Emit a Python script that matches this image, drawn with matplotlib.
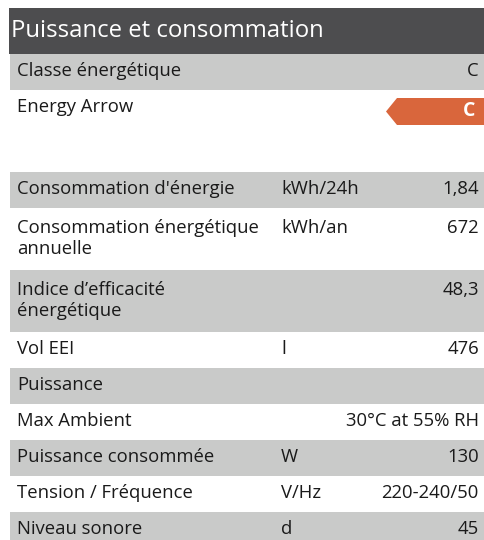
import matplotlib.pyplot as plt
from matplotlib.patches import Rectangle, Polygon

plt.rcParams['font.family'] = ['Open Sans', 'DejaVu Sans']

# contenu du tableau
title = "Puissance et consommation"
labels_top = ["Classe énergétique", "Energy Arrow"]
values_top = ["C", ""]
energy_class = "C"

labels = ["Consommation d'énergie", "Consommation énergétique\nannuelle",
          "Indice d’efficacité\nénergétique", "Vol EEI", "Puissance", "Max Ambient",
          "Puissance consommée", "Tension / Fréquence", "Niveau sonore"]
units = ["kWh/24h", "kWh/an", "", "l", "", "", "W", "V/Hz", "d"]
values = ["1,84", "672", "48,3", "476", "", "30°C at 55% RH", "130", "220-240/50", "45"]

GRAY = '#c9cac9'
DARK = '#4d4d4f'
ORANGE = '#d9663c'
TXT = '#1a1a1a'

fig = plt.figure(figsize=(4.84, 5.40), dpi=100)
ax = fig.add_axes([0, 0, 1, 1])
ax.set_xlim(0, 484)
ax.set_ylim(540, 0)
ax.axis('off')

FS = 13.3
X0, XL, XU, XR = 10, 17, 281, 479
STEP = 21.5


def draw_rows(y, labs, uns, vals):
    for i, (lab, un, val) in enumerate(zip(labs, uns, vals)):
        lines = lab.split('\n')
        h = 36 + 26 * (len(lines) - 1)
        if i % 2 == 0:
            ax.add_patch(Rectangle((X0, y), 484 - X0, h, color=GRAY, lw=0))
        y0 = y + h / 2 - 0.5 - STEP * (len(lines) - 1) / 2
        for k, line in enumerate(lines):
            ax.text(XL, y0 + STEP * k, line, fontsize=FS, color=TXT, va='center')
        ax.text(XU, y0, un, fontsize=FS, color=TXT, va='center')
        ax.text(XR, y0, val, fontsize=FS, color=TXT, va='center', ha='right')
        y += h
    return y


# en-tête
ax.add_patch(Rectangle((9, 8), 484 - 9, 46, color=DARK, lw=0))
ax.text(11, 31, title, fontsize=17.2, color='white', va='center')

draw_rows(54, labels_top, [""] * 2, values_top)

# flèche énergétique
ay, ah = 98, 27
ax.add_patch(Polygon([(386, ay + ah / 2), (397, ay), (484, ay), (484, ay + ah), (397, ay + ah)],
                     closed=True, color=ORANGE, lw=0))
ax.text(469, ay + ah / 2, energy_class, fontsize=14, color='white', fontweight='bold',
        va='center', ha='center')

draw_rows(172, labels, units, values)

plt.savefig('out.png', dpi=100)
